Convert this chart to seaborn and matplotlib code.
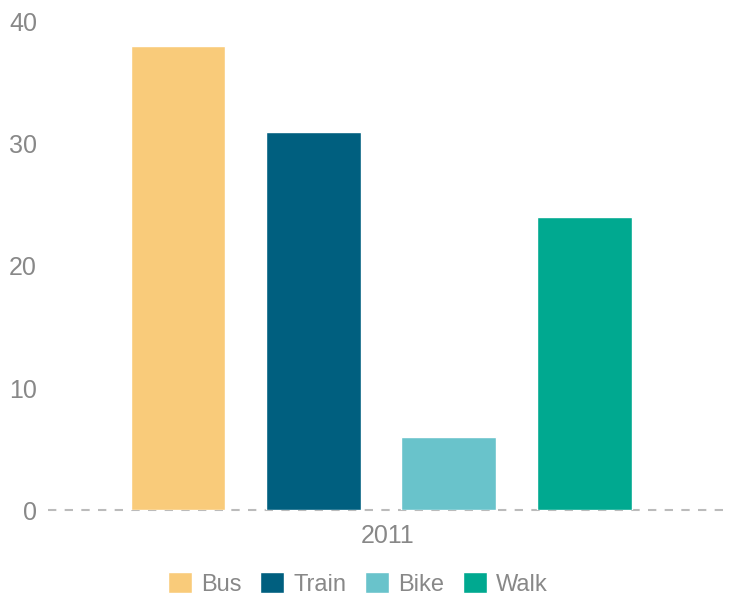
import pandas as pd
import matplotlib
matplotlib.use("Agg")
import matplotlib.pyplot as plt
import matplotlib.transforms as mtrans
import seaborn as sns

years = ["2011"]
modes = ["Bus", "Train", "Bike", "Walk"]
values = [38, 31, 6, 24]
colors = ["#F9CB7A", "#005F7F", "#69C3CB", "#00A990"]

df = pd.DataFrame({"year": years * len(modes), "mode": modes, "value": values})

sns.set_style("white")
plt.rcParams["font.family"] = ["Liberation Sans", "DejaVu Sans"]

fig = plt.figure(figsize=(7.29, 5.98), dpi=100)
ax = fig.add_axes([48 / 729, 88 / 598, 677 / 729, 488 / 598])
sns.barplot(data=df, x="year", y="value", hue="mode", palette=colors,
            width=0.8, gap=0.3, saturation=1, ax=ax, legend=True)

ax.set_ylim(0, 40)
ax.set_xlim(-0.492, 0.508)
ax.set_yticks([0, 10, 20, 30, 40])
ax.set_xlabel("")
ax.set_ylabel("")
for s in ax.spines.values():
    s.set_visible(False)
ax.axhline(0, color="#BBBBBB", lw=1.5, ls=(0, (4, 4)), zorder=0, clip_on=False)
ax.tick_params(axis="both", length=0, labelsize=18, labelcolor="#888888")
ax.tick_params(axis="y", pad=8)
ax.tick_params(axis="x", pad=10)

# category label sits a little right of the bar group in the original
shift = mtrans.ScaledTranslation(7 / 100, 0, fig.dpi_scale_trans)
for lbl in ax.get_xticklabels():
    lbl.set_transform(lbl.get_transform() + shift)

handles, labels = ax.get_legend_handles_labels()
ax.legend(handles, labels, loc="center", bbox_to_anchor=(0.458, -0.152), ncol=4,
          frameon=False, fontsize=17, labelcolor="#888888", handlelength=1.0,
          handleheight=1.0, handletextpad=0.4, columnspacing=0.8,
          borderpad=0.1)

fig.savefig("out.png", dpi=100)
